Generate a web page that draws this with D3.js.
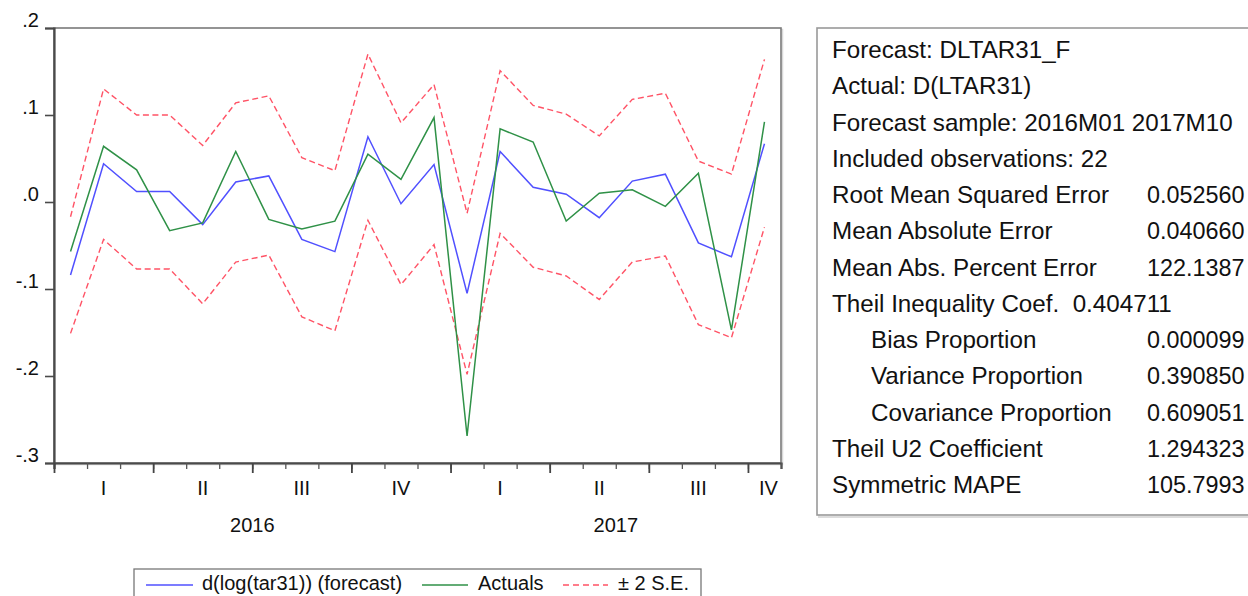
<!DOCTYPE html>
<html>
<head>
<meta charset="utf-8">
<script src="https://cdn.jsdelivr.net/npm/d3@7/dist/d3.min.js"></script>
<style>
  html, body { margin: 0; padding: 0; background: #fff; }
  svg { display: block; font-family: "Liberation Sans", Arial, Helvetica, sans-serif; }
</style>
</head>
<body>
<svg id="chart" width="1248" height="596"></svg>
<script>
// Monthly forecast evaluation, 2016M01 - 2017M10
const months = ["2016M01","2016M02","2016M03","2016M04","2016M05","2016M06","2016M07","2016M08","2016M09","2016M10","2016M11","2016M12",
                "2017M01","2017M02","2017M03","2017M04","2017M05","2017M06","2017M07","2017M08","2017M09","2017M10"];

const forecast = [-0.084, 0.044, 0.012, 0.012, -0.026, 0.023, 0.030, -0.043, -0.057, 0.075, -0.002, 0.043,
                  -0.105, 0.058, 0.017, 0.009, -0.018, 0.024, 0.032, -0.047, -0.063, 0.067];
const actuals  = [-0.057, 0.064, 0.037, -0.033, -0.024, 0.058, -0.020, -0.031, -0.022, 0.055, 0.026, 0.097,
                  -0.269, 0.084, 0.069, -0.022, 0.010, 0.014, -0.005, 0.033, -0.147, 0.092];
const upperSE  = [-0.017, 0.130, 0.100, 0.100, 0.065, 0.114, 0.122, 0.051, 0.036, 0.170, 0.091, 0.135,
                  -0.013, 0.151, 0.111, 0.101, 0.076, 0.118, 0.125, 0.047, 0.032, 0.164];
const lowerSE  = [-0.151, -0.043, -0.077, -0.077, -0.117, -0.069, -0.061, -0.132, -0.148, -0.021, -0.095, -0.049,
                  -0.198, -0.036, -0.075, -0.085, -0.112, -0.069, -0.062, -0.141, -0.156, -0.029];

const yTicks = [0.2, 0.1, 0.0, -0.1, -0.2, -0.3];
const yTickLabels = [".2", ".1", ".0", "-.1", "-.2", "-.3"];
const quarterLabels = ["I", "II", "III", "IV"];
const years = ["2016", "2017"];

const legendLabels = ["d(log(tar31)) (forecast)", "Actuals", "\u00b1 2 S.E."];

const statLabels = [
  "Forecast: DLTAR31_F",
  "Actual: D(LTAR31)",
  "Forecast sample: 2016M01 2017M10",
  "Included observations: 22",
  "Root Mean Squared Error",
  "Mean Absolute Error",
  "Mean Abs. Percent Error",
  "Theil Inequality Coef.  0.404711",
  "Bias Proportion",
  "Variance Proportion",
  "Covariance Proportion",
  "Theil U2 Coefficient",
  "Symmetric MAPE"
];
const statValues = ["", "", "", "", "0.052560", "0.040660", "122.1387", "", "0.000099", "0.390850", "0.609051", "1.294323", "105.7993"];
const statIndent = [0, 0, 0, 0, 0, 0, 0, 0, 1, 1, 1, 0, 0];

// ---- layout
const plot = { left: 54, top: 28, right: 781, bottom: 463 };
const svg = d3.select("#chart");

const x = d3.scaleLinear().domain([0, months.length]).range([plot.left, plot.right]);
const y = d3.scaleLinear().domain([-0.3, 0.2]).range([plot.bottom, plot.top]);

// frame (top/right lighter, with soft shadow)
svg.append("rect")
  .attr("x", plot.left + 1.5).attr("y", plot.top + 1.5)
  .attr("width", plot.right - plot.left).attr("height", plot.bottom - plot.top)
  .attr("fill", "none").attr("stroke", "#d8d8d8").attr("stroke-width", 1.5);
svg.append("rect")
  .attr("x", plot.left).attr("y", plot.top)
  .attr("width", plot.right - plot.left).attr("height", plot.bottom - plot.top)
  .attr("fill", "#fff").attr("stroke", "#7a7a7a").attr("stroke-width", 1.6);

// series
const line = d3.line().x((d, i) => x(i + 0.5)).y(d => y(d));

const series = [
  { values: upperSE,  color: "#ff5366", dash: "6,3.5", width: 1.4 },
  { values: lowerSE,  color: "#ff5366", dash: "6,3.5", width: 1.4 },
  { values: forecast, color: "#5050ff", dash: null,   width: 1.5 },
  { values: actuals,  color: "#2f9147", dash: null,   width: 1.5 }
];
series.forEach(s => {
  svg.append("path")
    .datum(s.values)
    .attr("d", line)
    .attr("fill", "none")
    .attr("stroke", s.color)
    .attr("stroke-width", s.width)
    .attr("stroke-dasharray", s.dash)
    .attr("stroke-linejoin", "miter");
});

// y axis
const yAxis = d3.axisLeft(y)
  .tickValues(yTicks)
  .tickSize(9)
  .tickPadding(6)
  .tickFormat((d, i) => yTickLabels[i]);
const gy = svg.append("g").attr("transform", `translate(${plot.left},0)`).call(yAxis);
gy.select(".domain").attr("stroke", "#4a4a4a").attr("stroke-width", 2.2);
gy.selectAll(".tick line").attr("stroke", "#4a4a4a").attr("stroke-width", 1.6);
gy.selectAll(".tick text")
  .attr("font-size", 20).attr("fill", "#111")
  .attr("dy", "-0.08em");

// x axis: monthly minor ticks and quarterly major ticks
const monthBounds = d3.range(0, months.length + 1);
const quarterBounds = monthBounds.filter(m => m % 3 === 0);

const xMinor = d3.axisBottom(x).tickValues(monthBounds).tickSize(6).tickFormat("");
const gxMinor = svg.append("g").attr("transform", `translate(0,${plot.bottom})`).call(xMinor);
gxMinor.select(".domain").attr("stroke", "#4a4a4a").attr("stroke-width", 2.2);
gxMinor.selectAll(".tick line").attr("stroke", "#555").attr("stroke-width", 1.3);

const xMajor = d3.axisBottom(x).tickValues(quarterBounds).tickSize(10).tickFormat("");
const gxMajor = svg.append("g").attr("transform", `translate(0,${plot.bottom})`).call(xMajor);
gxMajor.select(".domain").remove();
gxMajor.selectAll(".tick line").attr("stroke", "#444").attr("stroke-width", 1.8);

// quarter labels, centred on the visible part of each quarter
const quarters = [];
for (let q = 0; q * 3 < months.length; q++) {
  const a = q * 3, b = Math.min(q * 3 + 3, months.length);
  quarters.push({ label: quarterLabels[q % 4], mid: (a + b) / 2 });
}
svg.append("g").selectAll("text")
  .data(quarters)
  .join("text")
  .attr("x", d => x(d.mid) + (d.mid === months.length - 0.5 ? 4 : 0))
  .attr("y", 495)
  .attr("text-anchor", "middle")
  .attr("font-size", 20)
  .attr("fill", "#111")
  .text(d => d.label);

// year labels
const yearSpans = years.map(yr => {
  const idx = months.map((m, i) => m.startsWith(yr) ? i : -1).filter(i => i >= 0);
  return { label: yr, mid: (idx[0] + idx[idx.length - 1] + 1) / 2 };
});
svg.append("g").selectAll("text")
  .data(yearSpans)
  .join("text")
  .attr("x", d => x(d.mid))
  .attr("y", 532)
  .attr("text-anchor", "middle")
  .attr("font-size", 20)
  .attr("fill", "#111")
  .text(d => d.label);

// legend
const legend = svg.append("g");
legend.append("rect")
  .attr("x", 134).attr("y", 569).attr("width", 567).attr("height", 40)
  .attr("fill", "#fff").attr("stroke", "#777").attr("stroke-width", 1.3);
const legendItems = [
  { x0: 146, x1: 193, tx: 202, color: "#5050ff", dash: null },
  { x0: 422, x1: 468, tx: 478, color: "#2f9147", dash: null },
  { x0: 563, x1: 608, tx: 618, color: "#ff5366", dash: "6,4" }
];
legendItems.forEach((it, i) => {
  legend.append("line")
    .attr("x1", it.x0).attr("x2", it.x1).attr("y1", 585).attr("y2", 585)
    .attr("stroke", it.color).attr("stroke-width", 1.3)
    .attr("stroke-dasharray", it.dash);
  legend.append("text")
    .attr("x", it.tx).attr("y", 590)
    .attr("font-size", 20).attr("fill", "#111")
    .text(legendLabels[i]);
});

// statistics box
const stats = svg.append("g");
stats.append("rect")
  .attr("x", 819).attr("y", 30).attr("width", 460).attr("height", 487)
  .attr("fill", "none").attr("stroke", "#dcdcdc").attr("stroke-width", 2);
stats.append("rect")
  .attr("x", 817).attr("y", 28).attr("width", 460).attr("height", 487)
  .attr("fill", "#fff").attr("stroke", "#999").attr("stroke-width", 1.6);
statLabels.forEach((lab, i) => {
  const yy = 58 + i * 36.25;
  stats.append("text")
    .attr("x", statIndent[i] ? 871 : 832).attr("y", yy)
    .attr("font-size", 24.2).attr("fill", "#111")
    .attr("xml:space", "preserve")
    .style("white-space", "pre")
    .text(lab);
  if (statValues[i]) {
    stats.append("text")
      .attr("x", 1147).attr("y", yy)
      .attr("font-size", 23.4).attr("fill", "#111")
      .text(statValues[i]);
  }
});
</script>
</body>
</html>
